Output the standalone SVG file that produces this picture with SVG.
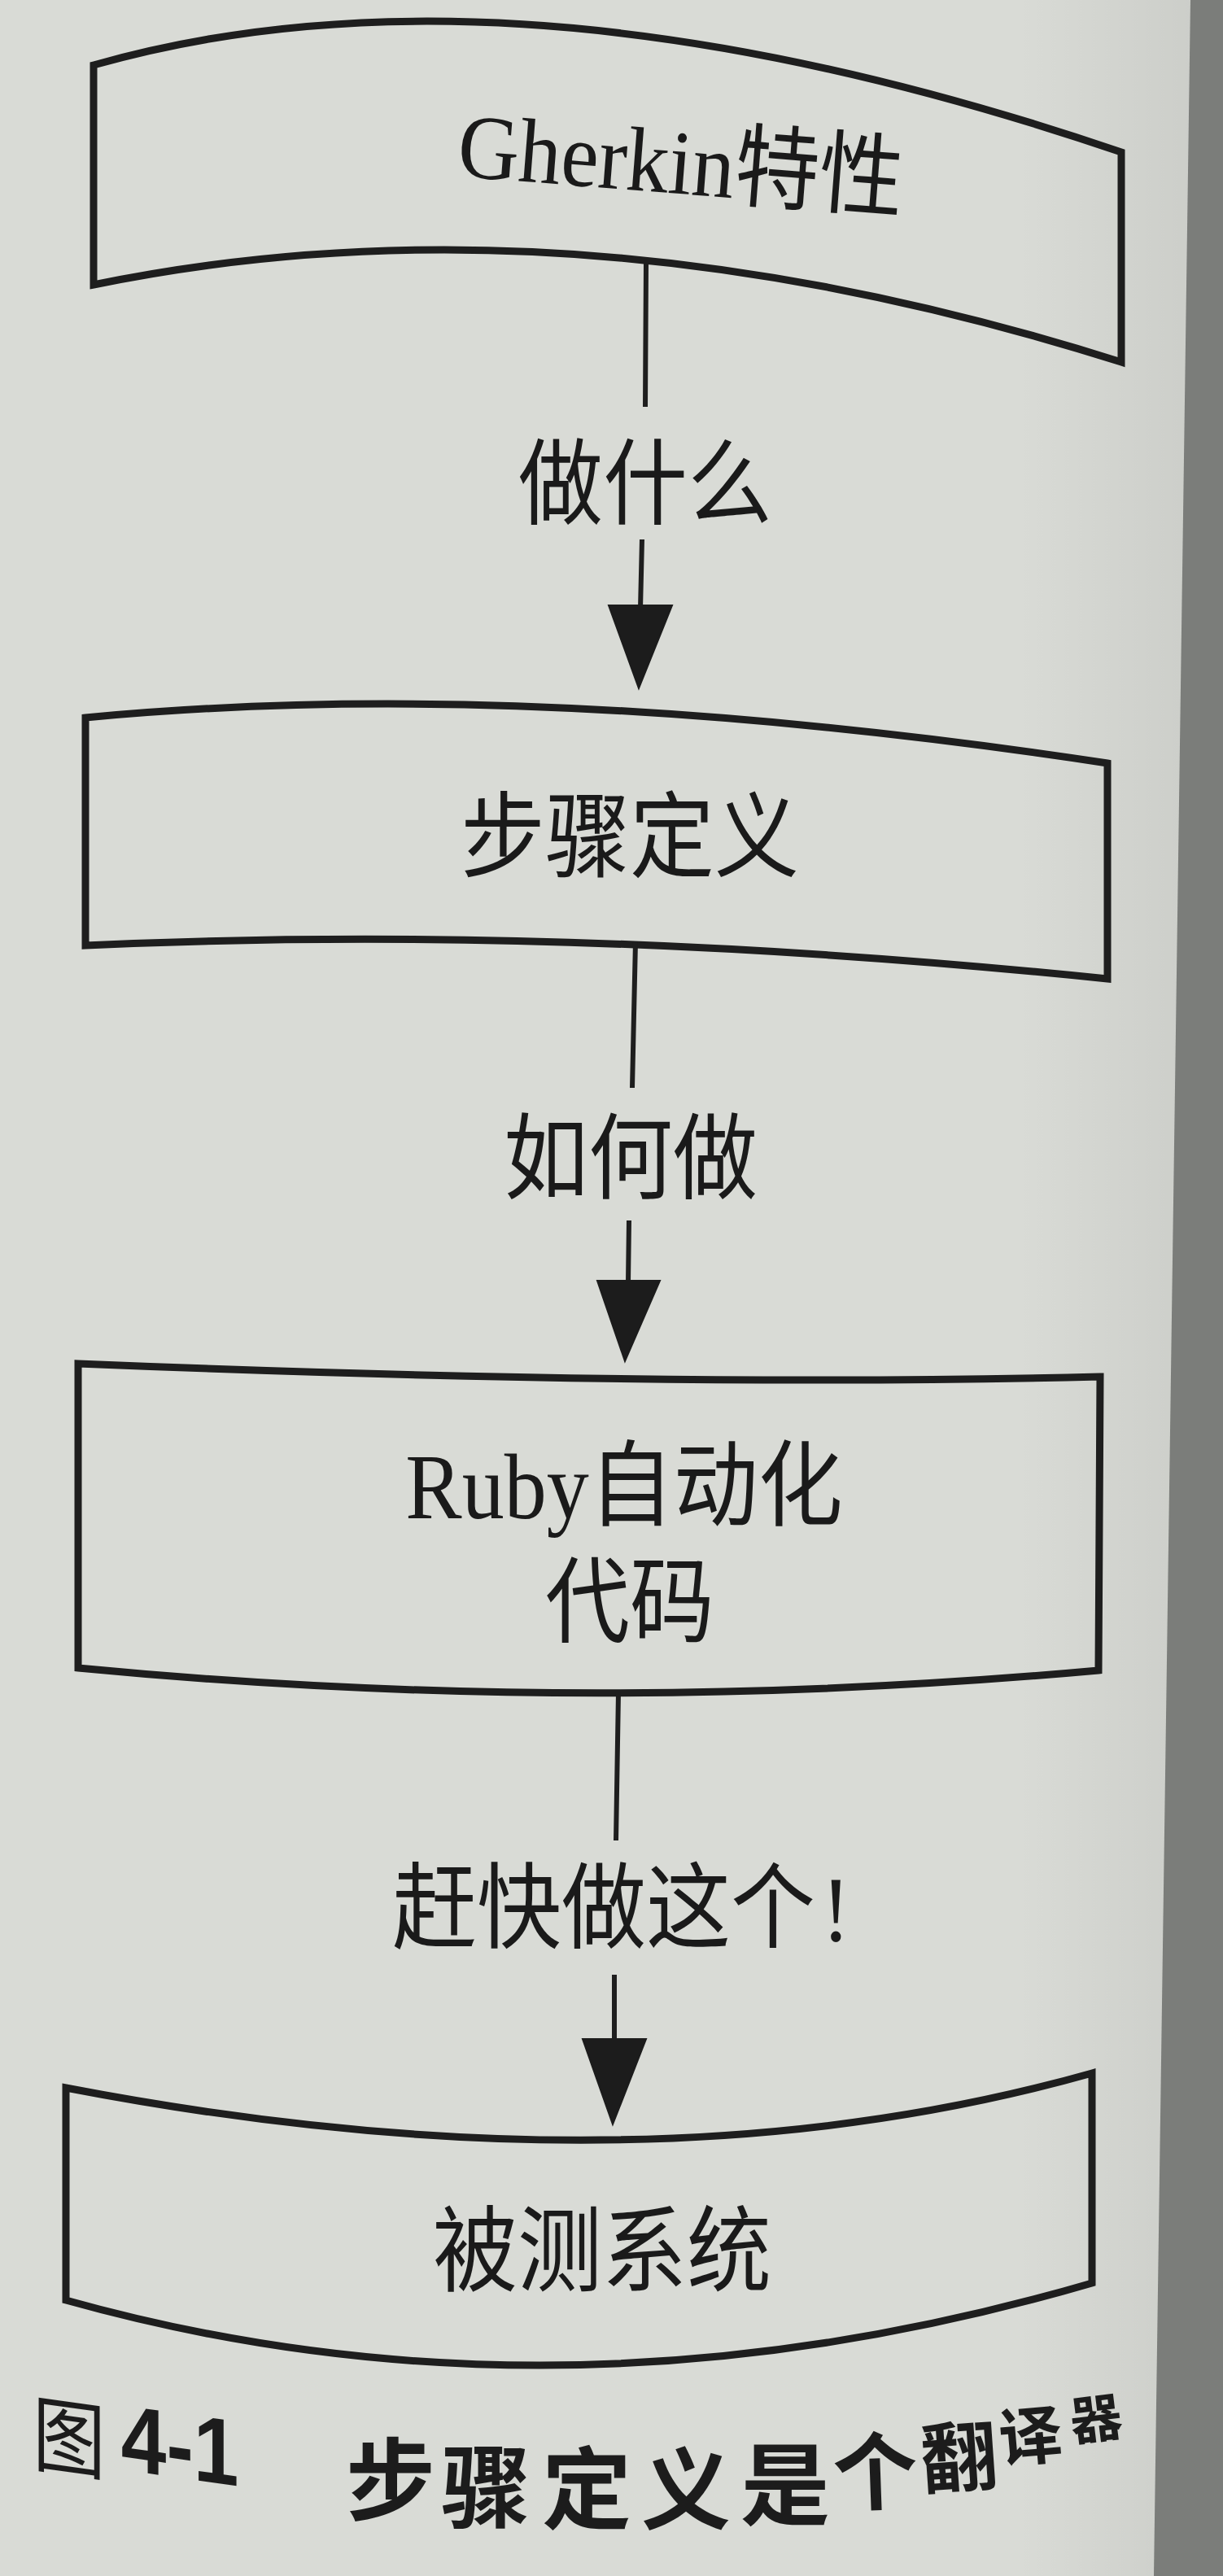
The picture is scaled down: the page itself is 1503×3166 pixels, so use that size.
<svg xmlns="http://www.w3.org/2000/svg" width="1503" height="3166" viewBox="0 0 1503 3166">
  <defs>
    <style>
      .paper { fill: #d9dbd6; }
      .edge { fill: #7b7d7a; }
      .box { fill: none; stroke: #1e1e1e; stroke-width: 9; stroke-linejoin: miter; }
      .conn { fill: none; stroke: #1e1e1e; stroke-width: 6; }
      .head { fill: #1c1c1c; stroke: #1c1c1c; stroke-width: 2; stroke-linejoin: miter; }
      .lbl { font-family: "Liberation Serif", "Noto Sans CJK SC", serif; font-size: 104px; fill: #1a1a1a; }
      .cap { font-family: "Noto Sans CJK SC", "Liberation Sans", sans-serif; font-weight: 700; fill: #1c1c1c; }
    </style>
    <linearGradient id="shade" x1="0" y1="0" x2="1" y2="0">
      <stop offset="0" stop-color="#000" stop-opacity="0"/>
      <stop offset="1" stop-color="#000" stop-opacity="0.07"/>
    </linearGradient>
  </defs>

  <rect class="paper" x="0" y="0" width="1503" height="3166"/>
  <rect x="1250" y="0" width="253" height="3166" fill="url(#shade)"/>
  <polygon class="edge" points="1463,0 1503,0 1503,3166 1418,3166"/>

  <g id="node-gherkin">
    <path class="box" d="M115,80 Q632,-67 1378,187 L1378,445 Q700,230 115,350 Z"/>
    <text class="lbl" text-anchor="middle" transform="translate(834,238) rotate(4.5) scale(1,1.08)">Gherkin特性</text>
  </g>

  <g id="node-step">
    <path class="box" d="M105,882 Q650,830 1361,938 L1361,1203 Q700,1135 105,1162 Z"/>
    <text class="lbl" text-anchor="middle" transform="translate(774,1069) scale(1,1.1)">步骤定义</text>
  </g>

  <g id="node-ruby">
    <path class="box" d="M96,1676 Q800,1705 1352,1692 L1350,2053 Q720,2110 96,2050 Z"/>
    <text class="lbl" text-anchor="middle" transform="translate(767,1866) scale(1,1.1)">Ruby自动化</text>
    <text class="lbl" text-anchor="middle" transform="translate(774,2009) scale(1,1.1)">代码</text>
  </g>

  <g id="node-sut">
    <path class="box" d="M81,2566 Q794,2703 1342,2548 L1342,2806 Q688,2997 81,2827 Z"/>
    <text class="lbl" text-anchor="middle" transform="translate(740,2807) scale(1,1.1)">被测系统</text>
  </g>

  <g id="connectors">
    <path class="conn" d="M794,322 L793,500 M789,663 L787,748"/>
    <polygon class="head" points="748,744 826,744 785,846"/>
    <text class="lbl" font-size="102" text-anchor="middle" transform="translate(793,635) scale(1,1.1)">做什么</text>

    <path class="conn" d="M781,1157 L777,1337 M773,1500 L772,1576"/>
    <polygon class="head" points="734,1574 811,1574 768,1673"/>
    <text class="lbl" text-anchor="middle" transform="translate(775,1464) scale(1,1.1)">如何做</text>

    <path class="conn" d="M760,2080 L757,2262 M755,2427 L755,2508"/>
    <polygon class="head" points="716,2506 794,2506 753,2611"/>
    <text class="lbl" font-size="102" transform="translate(482,2385) scale(1,1.1)">赶快做这个<tspan dx="8">!</tspan></text>
  </g>

  <g id="caption">
    <text class="cap" transform="translate(40,3028) skewY(8) scale(1,1.15)"><tspan x="0" y="0" font-size="90" font-weight="400">图</tspan><tspan x="81" y="-7" font-family="Liberation Sans, sans-serif" font-size="100" font-weight="700"> 4-1</tspan></text>
    <text class="cap" font-size="110"><tspan x="425" y="3089">步</tspan><tspan x="542" y="3098">骤</tspan><tspan x="666" y="3100">定</tspan><tspan x="788" y="3100">义</tspan><tspan x="910" y="3095">是</tspan><tspan x="1025" y="3078" font-size="104" rotate="-2">个</tspan><tspan x="1134" y="3058" font-size="94" rotate="-4">翻</tspan><tspan x="1230" y="3026" font-size="78" rotate="-5">译</tspan><tspan x="1318" y="3000" font-size="64" rotate="-7">器</tspan></text>
  </g>
</svg>
